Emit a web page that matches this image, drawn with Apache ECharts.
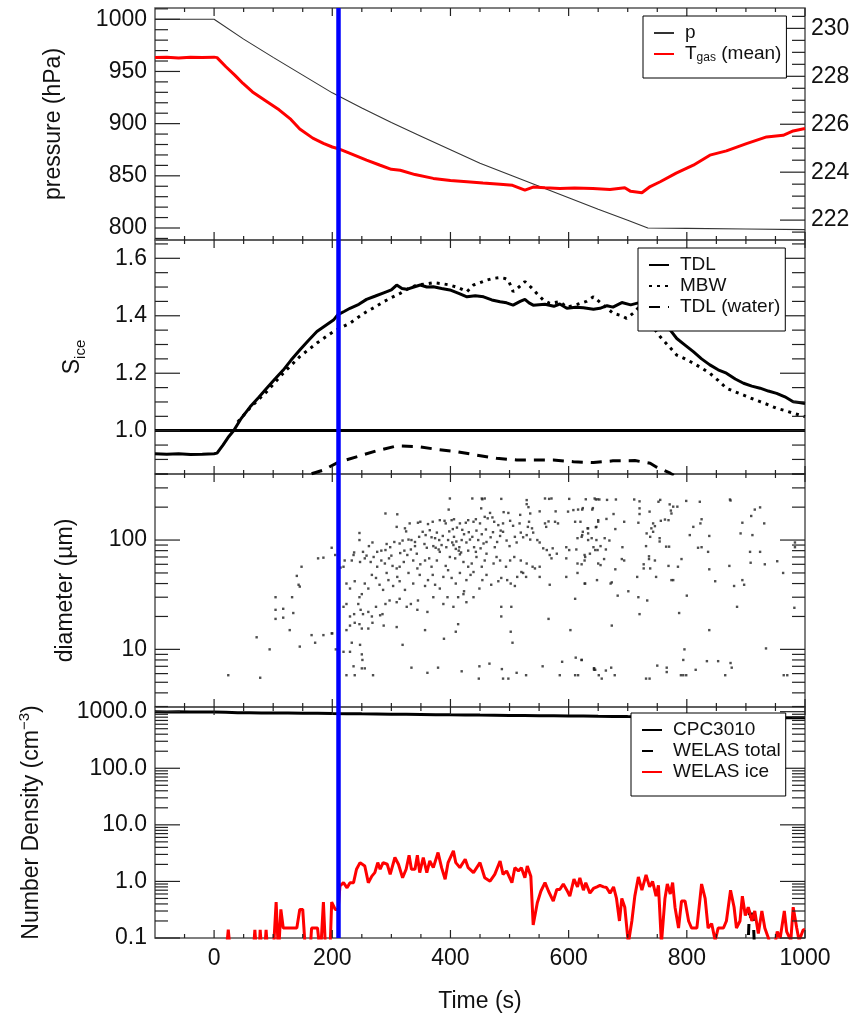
<!DOCTYPE html>
<html>
<head>
<meta charset="utf-8">
<script src="https://cdn.jsdelivr.net/npm/echarts@6/dist/echarts.min.js"></script>
<style>
html, body { margin: 0; padding: 0; background: #fff; }
#chart { width: 854px; height: 1019px; }
</style>
</head>
<body>
<div id="chart"></div>
<script>
var FONT = '"Liberation Sans", Arial, Helvetica, sans-serif';

// ticks / labels
var timeLabels = [0, 200, 400, 600, 800, 1000];
var timeMinor = [-50, 50, 100, 150, 250, 300, 350, 450, 500, 550, 650, 700, 750, 850, 900, 950];
var pressureLabels = [800, 850, 900, 950, 1000];
var pressureMinor = [790, 810, 820, 830, 840, 860, 870, 880, 890, 910, 920, 930, 940, 960, 970, 980, 990, 1010];
var tempLabels = [222, 224, 226, 228, 230];
var tempMinor = [221.5, 222.5, 223, 223.5, 224.5, 225, 225.5, 226.5, 227, 227.5, 228.5, 229, 229.5, 230.5];
var sIceLabels = [1.0, 1.2, 1.4, 1.6];
var sIceMinor = [0.85, 0.9, 0.95, 1.05, 1.1, 1.15, 1.25, 1.3, 1.35, 1.45, 1.5, 1.55, 1.65];
var diamLabels = [10, 100];
var diamMinor = [3, 4, 5, 6, 7, 8, 9, 20, 30, 40, 50, 60, 70, 80, 90, 200, 300, 400];
var densLabels = [0.1, 1, 10, 100, 1000];
var densMinor = [0.2, 0.3, 0.4, 0.5, 0.6, 0.7, 0.8, 0.9, 2, 3, 4, 5, 6, 7, 8, 9,
  20, 30, 40, 50, 60, 70, 80, 90, 200, 300, 400, 500, 600, 700, 800, 900];

var markerTime = 210;

// panel 1
var pressure = [[-100, 1000], [-50, 1000], [0, 1000], [50, 981], [100, 963.5], [150, 946.5], [200, 929.5],
  [250, 915], [300, 901], [350, 888], [400, 875], [450, 862], [500, 851], [550, 840], [600, 829],
  [650, 818], [700, 807.5], [734, 800], [800, 799.6], [900, 799], [1000, 798.4]];
var tGas = [[-100, 228.78], [-80, 228.8], [-60, 228.76], [-40, 228.8], [-20, 228.78], [0, 228.8], [5, 228.78],
  [20, 228.4], [35, 228.05], [49, 227.7], [65, 227.35], [89, 226.95], [110, 226.6], [130, 226.2], [145, 225.8],
  [167, 225.42], [185, 225.2], [200, 225.05], [209, 224.99], [230, 224.78], [258, 224.5], [280, 224.3],
  [300, 224.12], [315, 224.08], [340, 223.9], [371, 223.74], [400, 223.65], [428, 223.6], [455, 223.55],
  [484, 223.5], [505, 223.45], [526, 223.25], [540, 223.38], [560, 223.35], [585, 223.32], [610, 223.34],
  [641, 223.32], [670, 223.28], [695, 223.35], [705, 223.2], [724, 223.14], [738, 223.4], [755, 223.6],
  [782, 223.96], [811, 224.29], [839, 224.71], [867, 224.89], [901, 225.19], [935, 225.47], [963, 225.54],
  [980, 225.72], [1000, 225.82]];

// panel 2
var tdl = [[-100, 0.92], [-80, 0.918], [-60, 0.92], [-40, 0.917], [-20, 0.918], [0, 0.92], [5, 0.922],
  [15, 0.95], [25, 0.98], [33, 1.0], [45, 1.04], [61, 1.083], [75, 1.115], [89, 1.148], [103, 1.18],
  [117, 1.211], [130, 1.245], [145, 1.281], [160, 1.315], [174, 1.345], [188, 1.365], [202, 1.385],
  [209, 1.403], [220, 1.415], [230, 1.426], [245, 1.44], [258, 1.457], [272, 1.468], [287, 1.48],
  [300, 1.49], [309, 1.507], [318, 1.495], [326, 1.492], [338, 1.5], [349, 1.507], [360, 1.5],
  [371, 1.501], [385, 1.495], [399, 1.49], [414, 1.478], [428, 1.466], [442, 1.47], [456, 1.466],
  [470, 1.455], [484, 1.449], [495, 1.445], [506, 1.437], [518, 1.45], [526, 1.457], [533, 1.445],
  [540, 1.437], [560, 1.44], [575, 1.433], [585, 1.441], [597, 1.426], [612, 1.43], [625, 1.428],
  [642, 1.423], [653, 1.426], [665, 1.435], [675, 1.43], [690, 1.446], [705, 1.438], [718, 1.445],
  [727, 1.437], [735, 1.43], [744, 1.414], [758, 1.385], [772, 1.35], [783, 1.321], [797, 1.298],
  [811, 1.275], [825, 1.25], [839, 1.229], [853, 1.212], [867, 1.2], [882, 1.18], [896, 1.165],
  [910, 1.155], [924, 1.148], [938, 1.138], [952, 1.13], [966, 1.118], [980, 1.101], [990, 1.098], [1000, 1.095]];
var mbw = [[40, 1.03], [61, 1.08], [89, 1.136], [117, 1.2], [145, 1.258], [174, 1.305], [202, 1.345],
  [216, 1.36], [230, 1.374], [244, 1.395], [258, 1.414], [272, 1.43], [287, 1.449], [300, 1.463],
  [315, 1.478], [329, 1.495], [343, 1.507], [357, 1.51], [371, 1.515], [385, 1.512], [399, 1.507],
  [413, 1.498], [428, 1.484], [439, 1.507], [450, 1.515], [461, 1.524], [472, 1.53], [484, 1.533],
  [492, 1.53], [498, 1.524], [506, 1.484], [516, 1.5], [526, 1.519], [536, 1.5], [546, 1.478],
  [557, 1.455], [568, 1.443], [585, 1.449], [597, 1.43], [615, 1.44], [630, 1.45], [642, 1.466],
  [660, 1.435], [675, 1.409], [690, 1.4], [698, 1.391], [710, 1.41], [720, 1.432], [728, 1.41],
  [738, 1.374], [755, 1.327], [769, 1.295], [783, 1.263], [797, 1.25], [811, 1.235], [825, 1.218],
  [839, 1.2], [853, 1.175], [867, 1.148], [882, 1.135], [896, 1.124], [910, 1.112], [924, 1.101],
  [938, 1.09], [952, 1.078], [966, 1.07], [980, 1.061], [990, 1.055], [1000, 1.049]];
var tdlWater = [[165, 0.85], [185, 0.863], [209, 0.889], [241, 0.909], [275, 0.93], [309, 0.947],
  [343, 0.945], [377, 0.935], [411, 0.927], [445, 0.915], [478, 0.904], [512, 0.898], [540, 0.898],
  [574, 0.898], [608, 0.892], [642, 0.889], [675, 0.895], [712, 0.896], [738, 0.887], [749, 0.873],
  [772, 0.852], [778, 0.845]];

// panel 3: particle diameters [time, um]
var diameters = [
  [24, 5.8], [78, 5.5], [72, 12.9], [94, 10], [104, 30], [104, 23], [104, 19], [117, 23.5], [117, 19.5],
  [132, 30], [134, 21.5], [128, 15], [140, 47], [143, 39],
  [148, 57], [145, 37.5], [176, 68], [185, 69], [199, 85], [205, 73], [214, 56], [221, 65], [199, 14],
  [165, 13.5], [171, 11.5], [185, 13.5], [200, 14], [145, 10.6], [206, 10],
  [399, 240], [437, 240], [453, 240], [454, 236], [458, 240], [486, 238], [529, 232], [560, 240], [567, 238],
  [571, 240], [601, 238], [629, 236], [644, 240], [649, 236],
  [397, 190], [452, 195], [290, 175], [310, 172], [529, 213], [532, 200], [490, 180], [498, 177], [467, 177],
  [551, 183], [578, 183], [608, 188], [616, 190], [623, 190], [640, 190], [599, 182], [518, 170], [535, 175],
  [345, 144], [349, 147], [362, 140], [370, 147], [382, 152], [390, 150], [392, 142], [402, 152], [406, 155],
  [416, 142], [426, 144], [430, 152], [439, 147], [443, 155], [450, 142], [458, 163], [463, 158], [471, 161],
  [474, 147], [481, 137], [489, 142], [501, 150], [506, 135], [517, 142], [533, 147], [531, 132], [538, 128],
  [562, 132], [566, 148], [577, 147], [582, 142], [560, 142], [611, 147], [620, 147], [633, 128], [647, 132],
  [650, 152], [331, 142], [323, 128], [309, 132], [246, 116], [325, 120],
  [246, 100], [237, 77], [262, 88], [276, 78], [283, 80], [290, 81], [298, 86], [305, 96], [314, 93],
  [319, 99], [329, 101], [334, 100], [340, 96], [347, 107], [353, 119], [358, 111], [365, 123], [368, 106],
  [374, 104], [377, 117], [381, 100], [385, 90], [387, 109], [393, 86], [396, 100], [403, 95], [406, 107],
  [410, 97], [415, 86], [419, 100], [423, 113], [427, 95], [433, 101], [437, 107], [440, 86], [447, 100],
  [453, 113], [456, 93], [461, 96], [468, 106], [475, 86], [479, 96], [484, 109], [489, 119], [495, 99],
  [500, 88], [509, 107], [512, 95], [519, 117], [523, 106], [529, 111], [535, 101], [540, 117], [547, 100],
  [551, 95], [557, 84], [563, 81], [568, 73], [573, 84], [580, 75], [596, 86], [601, 81], [613, 82],
  [615, 104], [623, 111], [627, 73], [633, 100], [642, 86], [649, 81],
  [371, 88], [375, 85], [380, 82], [405, 90], [409, 83], [414, 80], [418, 77], [430, 80], [443, 78],
  [451, 84], [398, 120], [404, 126], [411, 130], [420, 124], [431, 118], [444, 122], [460, 125], [472, 118],
  [485, 122], [356, 92], [360, 85], [340, 88], [333, 82], [322, 80], [315, 76], [300, 72], [292, 92],
  [268, 95], [258, 72], [252, 78],
  [219, 57], [233, 65], [236, 73], [247, 63], [255, 68], [265, 63], [270, 70], [276, 57], [283, 65],
  [289, 61], [296, 68], [302, 58], [309, 55], [314, 57], [321, 63], [327, 73], [337, 65], [343, 75],
  [349, 60], [357, 65], [364, 68], [368, 57], [377, 65], [382, 78], [392, 58], [399, 70], [408, 68],
  [416, 74], [422, 63], [430, 57], [436, 61], [444, 70], [453, 57], [458, 65], [461, 75], [473, 61],
  [478, 70], [484, 65], [494, 57], [501, 65], [508, 70], [519, 65], [523, 50], [529, 61], [539, 57],
  [543, 55], [551, 57], [571, 68], [596, 68], [615, 61], [627, 65], [636, 75], [650, 61],
  [224, 40], [230, 36], [238, 42], [246, 30], [250, 32], [255, 40], [261, 36], [267, 48], [274, 45],
  [280, 39], [286, 35], [292, 50], [295, 43], [303, 38], [310, 46], [314, 42], [323, 35], [329, 50],
  [337, 40], [344, 55], [348, 48], [357, 38], [362, 43], [370, 48], [374, 39], [382, 36], [388, 46],
  [396, 53], [402, 45], [409, 40], [416, 50], [423, 34], [427, 43], [434, 48], [439, 51], [449, 36],
  [454, 43], [461, 48], [469, 39], [481, 42], [486, 45], [496, 43], [502, 40], [509, 38], [513, 46],
  [520, 51], [528, 46], [551, 46], [568, 39], [596, 46], [615, 50], [627, 40],
  [219, 24.5], [224, 26], [230, 20], [237, 21], [244, 26], [248, 23], [252, 21], [261, 22], [267, 20],
  [274, 24.5], [281, 20.5], [285, 21], [290, 26], [297, 28], [309, 27], [314, 29], [326, 24.5], [333, 26],
  [344, 23], [345, 28], [361, 22], [371, 30], [388, 26], [395, 30], [405, 24.5], [413, 30], [422, 32],
  [427, 27], [439, 30], [486, 24.5], [503, 24.5], [486, 20], [566, 19], [611, 29],
  [224, 15], [230, 16.5], [238, 17.5], [246, 17], [250, 15.5], [261, 15.5], [268, 17.5], [287, 16.5],
  [309, 16], [357, 15], [389, 12.5], [413, 17], [409, 14.5], [502, 14.5], [505, 11.5], [603, 15],
  [233, 11.5], [247, 11], [319, 11],
  [219, 9.5], [230, 9.5], [250, 9], [251, 8], [250, 6.7], [236, 7], [224, 5.8], [238, 5.8], [255, 6.7],
  [269, 5.8], [334, 6.8], [361, 6.1], [379, 6.8], [419, 6.3], [449, 7], [448, 5.4], [466, 7.4], [487, 6.6],
  [489, 5.4], [498, 5.4], [512, 6.1], [528, 5.8], [556, 7], [589, 7.7], [585, 5.8], [612, 8.4], [622, 8],
  [611, 5.8], [616, 5.8], [643, 6.7], [645, 6.5],
  [646, 235], [652, 235], [665, 233], [680, 235], [711, 235], [755, 233], [720, 226], [752, 224], [799, 228],
  [822, 224], [873, 235], [874, 230], [924, 199], [915, 190], [909, 166], [771, 212], [777, 202], [784, 202],
  [641, 196], [624, 196], [676, 173], [720, 195], [720, 173], [737, 182], [773, 186], [774, 175], [763, 154],
  [769, 152], [756, 150], [664, 156], [650, 147], [694, 147], [718, 144], [743, 142], [825, 155], [823, 142],
  [894, 144], [931, 142], [811, 132], [632, 128], [646, 131], [679, 126], [740, 128], [746, 134], [743, 119],
  [732, 115], [891, 115], [911, 111], [805, 111], [838, 109], [624, 119], [633, 115], [622, 107], [639, 104],
  [661, 104], [669, 99], [738, 107], [754, 104], [754, 97], [647, 100], [983, 95], [983, 86], [836, 78],
  [907, 78], [924, 78], [654, 88], [645, 81], [663, 82], [691, 86], [731, 88], [765, 87], [770, 87],
  [819, 85], [825, 86], [791, 67], [628, 70], [660, 67], [690, 67], [694, 65], [736, 71], [736, 67],
  [746, 65], [622, 60], [654, 59], [727, 60], [727, 55], [738, 55], [769, 58], [785, 57], [838, 54],
  [872, 58], [908, 62], [932, 60], [953, 64], [963, 50], [679, 54], [716, 46], [748, 46], [774, 43],
  [777, 43], [648, 43], [671, 40], [673, 41], [628, 40], [848, 42], [894, 43], [880, 38], [897, 39],
  [683, 31], [701, 34], [718, 30], [733, 28], [800, 31], [885, 24.5], [982, 24], [720, 21], [787, 21.5],
  [673, 16.5], [838, 15], [796, 10], [934, 10.2], [622, 8], [794, 8], [834, 7.8], [853, 7.8], [874, 7.5],
  [876, 6.8], [643, 6.7], [643, 6.5], [672, 6.8], [663, 6.4], [750, 7.1], [766, 6.8], [766, 6.2], [815, 6.5],
  [651, 5.8], [678, 5.8], [656, 5.4], [731, 5.4], [737, 5.4], [790, 5.8], [794, 5.8], [799, 5.8], [865, 5.8],
  [964, 5.8], [970, 5.8]
];

// panel 4
var cpc3010 = [[-100, 1000], [-80, 990], [-60, 996], [-40, 988], [-20, 992], [0, 985], [20, 975], [40, 962],
  [60, 958], [80, 952], [100, 950], [125, 944], [150, 938], [175, 934], [200, 925], [225, 922], [250, 915],
  [275, 910], [300, 900], [325, 897], [350, 892], [375, 886], [400, 880], [425, 876], [450, 870],
  [475, 866], [500, 860], [525, 857], [550, 850], [575, 846], [600, 840], [625, 836], [650, 830],
  [675, 826], [700, 820], [725, 816], [750, 812], [775, 808], [800, 805], [825, 800], [850, 797],
  [875, 794], [900, 790], [925, 787], [950, 784], [975, 780], [1000, 778]];
var welasTotal = [[903, 0.05], [906, 0.3], [909, 0.2], [912, 0.28], [915, 0.05]];
var welasIce = [[0, 0.05], [20, 0.05], [24, 0.14], [28, 0.05], [66, 0.05], [69, 0.14], [72, 0.05],
  [76, 0.05], [78, 0.14], [81, 0.05], [85, 0.05], [88, 0.14], [91, 0.05], [100, 0.05], [105, 0.43],
  [109, 0.05], [113, 0.32], [117, 0.15], [140, 0.15], [145, 0.32], [150, 0.32], [155, 0.05], [162, 0.05],
  [165, 0.15], [175, 0.15], [180, 0.05], [182, 0.05], [185, 0.43], [189, 0.05], [196, 0.05], [199, 0.43],
  [205, 0.32], [210, 0.32], [213, 0.83], [219, 0.95], [225, 0.77], [230, 0.95], [236, 0.95], [241, 1.64],
  [247, 2.15], [255, 1.87], [261, 0.95], [267, 1.24], [272, 1.43], [277, 2.15], [281, 1.64], [286, 2.15],
  [293, 2.01], [298, 1.33], [306, 2.65], [312, 2.01], [319, 1.16], [325, 1.64], [330, 2.9], [334, 1.64],
  [340, 1.64], [344, 2.9], [348, 1.43], [354, 2.65], [360, 1.43], [365, 2.3], [371, 1.75], [379, 3.24],
  [385, 1.75], [391, 1.09], [396, 2.15], [405, 3.47], [409, 2.15], [416, 1.75], [425, 2.46], [430, 1.75],
  [439, 1.43], [450, 2.15], [458, 1.16], [467, 1.01], [475, 1.33], [484, 2.3], [489, 1.33], [495, 1.53],
  [504, 0.95], [509, 1.75], [515, 1.53], [520, 1.75], [526, 1.16], [530, 1.87], [536, 1.24], [540, 0.17],
  [547, 0.42], [553, 0.67], [560, 0.95], [566, 0.67], [568, 0.72], [574, 0.45], [580, 0.72], [585, 0.72],
  [591, 0.9], [597, 0.7], [602, 0.55], [609, 1.1], [615, 0.8], [619, 1.15], [625, 0.7], [629, 0.95],
  [636, 0.62], [642, 0.75], [648, 0.8], [653, 0.85], [659, 0.8], [664, 0.78], [670, 0.62], [676, 0.8],
  [681, 0.5], [686, 0.2], [690, 0.5], [695, 0.35], [701, 0.08], [707, 0.2], [712, 0.55], [718, 1.2],
  [724, 0.7], [731, 1.3], [737, 0.8], [742, 1.0], [748, 0.55], [752, 0.85], [757, 0.08], [763, 0.5],
  [767, 0.9], [772, 0.6], [776, 0.95], [780, 0.35], [786, 0.15], [791, 0.45], [797, 0.45], [803, 0.2],
  [808, 0.15], [817, 0.15], [825, 0.9], [831, 0.5], [836, 0.15], [842, 0.18], [848, 0.09], [853, 0.15],
  [862, 0.15], [867, 0.2], [874, 0.7], [880, 0.35], [884, 0.15], [890, 0.2], [894, 0.55], [899, 0.25],
  [904, 0.35], [910, 0.2], [915, 0.3], [921, 0.12], [927, 0.3], [932, 0.15], [938, 0.1], [946, 0.05],
  [953, 0.13], [958, 0.1], [965, 0.3], [969, 0.13], [976, 0.09], [980, 0.35], [986, 0.15], [990, 0.09],
  [997, 0.14], [1000, 0.14]];

var chart = echarts.init(document.getElementById('chart'), null, { renderer: 'canvas' });

var labelStyle = { color: '#111', fontSize: 23, fontFamily: FONT };
var nameStyle = { color: '#111', fontSize: 23, fontFamily: FONT };

var panels = [
  { top: 8, height: 232 },
  { top: 240, height: 234 },
  { top: 474, height: 233 },
  { top: 707, height: 231 }
];
var grid = panels.map(function (p) {
  return { left: 155, right: 49, top: p.top, height: p.height, show: true,
    borderColor: '#555', borderWidth: 1.5, backgroundColor: 'transparent',
    outerBoundsMode: 'none', containLabel: false };
});

var xAxis = panels.map(function (p, g) {
  var ax = {
    type: 'value', gridIndex: g, position: 'bottom', min: -100, max: 1000,
    axisLine: { show: false, onZero: false }, axisTick: { show: false },
    axisLabel: { show: false }, splitLine: { show: false }
  };
  if (g === 3) {
    ax.axisLabel = Object.assign({ show: true, customValues: timeLabels, margin: 9,
      formatter: function (v) { return String(v); } }, labelStyle);
    ax.name = 'Time (s)';
    ax.nameLocation = 'middle';
    ax.nameGap = 52;
    ax.nameTextStyle = nameStyle;
  }
  return ax;
});

var fmtInt = function (v) { return String(Math.round(v)); };
var fmt1 = function (v) { return Number(v).toFixed(1); };
var pCfg = { type: 'value', min: 788.5, max: 1010.8, fmt: fmtInt };
var tCfg = { type: 'value', min: 221.17, max: 230.85, fmt: fmtInt };
var sCfg = { type: 'value', min: 0.8493, max: 1.6637, fmt: fmt1 };
var dCfg = { type: 'log', min: 2.97, max: 402, fmt: fmtInt };
var nCfg = { type: 'log', min: 0.1, max: 1210, fmt: fmt1 };

function valueAxis(g, position, cfg, labels, name) {
  var ax = {
    type: cfg.type, gridIndex: g, position: position, min: cfg.min, max: cfg.max,
    axisLine: { show: false, onZero: false }, axisTick: { show: false },
    axisLabel: Object.assign({ show: true, customValues: labels, formatter: cfg.fmt,
      margin: position === 'left' ? 8 : 6 }, labelStyle),
    splitLine: { show: false }
  };
  if (cfg.type === 'log') ax.logBase = 10;
  if (name) {
    ax.name = name.text;
    ax.nameLocation = 'middle';
    ax.nameGap = name.gap;
    ax.nameTextStyle = Object.assign({}, nameStyle, name.rich ? { rich: name.rich } : {});
  }
  return ax;
}

var richSub = { a: { fontSize: 23, fontFamily: FONT, color: '#111' },
  b: { fontSize: 15, fontFamily: FONT, color: '#111', verticalAlign: 'bottom', lineHeight: 30 } };
var richSup = { a: { fontSize: 23, fontFamily: FONT, color: '#111' },
  b: { fontSize: 15, fontFamily: FONT, color: '#111', verticalAlign: 'top', lineHeight: 30 } };

var yAxis = [
  valueAxis(0, 'left', pCfg, pressureLabels, { text: 'pressure (hPa)', gap: 90 }),
  valueAxis(0, 'right', tCfg, tempLabels),
  valueAxis(1, 'left', sCfg, sIceLabels, { text: '{a|S}{b|ice}', gap: 67, rich: richSub }),
  valueAxis(2, 'left', dCfg, diamLabels, { text: 'diameter (µm)', gap: 78 }),
  valueAxis(3, 'left', nCfg, densLabels, { text: '{a|Number Density (cm}{b|−3}{a|)}', gap: 108, rich: richSup })
];

// tick marks drawn through the axes' own scales: item = [value, side, length]
// side: 1 left, 2 right, 3 bottom, 4 top
function tickItems(values, sides, len) {
  var out = [];
  values.forEach(function (v) { sides.forEach(function (s) { out.push([v, s, len]); }); });
  return out;
}
function tickSeries(xi, yi, yRef, items) {
  return {
    type: 'custom', xAxisIndex: xi, yAxisIndex: yi, silent: true, clip: false, z: 6,
    animation: false, data: items,
    renderItem: function (params, api) {
      var cs = params.coordSys;
      var v = api.value(0), side = api.value(1), len = api.value(2);
      var shape;
      if (side === 1 || side === 2) {
        var y = api.coord([0, v])[1];
        var x0 = side === 1 ? cs.x : cs.x + cs.width;
        shape = { x1: x0, y1: y, x2: side === 1 ? x0 + len : x0 - len, y2: y };
      } else {
        var x = api.coord([v, yRef])[0];
        var yb = side === 3 ? cs.y + cs.height : cs.y;
        shape = { x1: x, y1: yb, x2: x, y2: side === 3 ? yb - len : yb + len };
      }
      return { type: 'line', shape: shape, style: { stroke: '#222', lineWidth: 1.2 } };
    }
  };
}
function timeTicks() {
  return tickItems(timeLabels, [3, 4], 8).concat(tickItems(timeMinor, [3, 4], 4));
}

function blueMark() {
  return {
    silent: true, symbol: ['none', 'none'], label: { show: false }, animation: false,
    lineStyle: { color: '#0000ff', width: 4.5, type: 'solid', opacity: 1 },
    emphasis: { disabled: true },
    data: [{ xAxis: markerTime }]
  };
}

function lineSeries(name, data, xi, yi, style, extra) {
  return Object.assign({
    name: name, type: 'line', data: data, xAxisIndex: xi, yAxisIndex: yi,
    symbol: 'none', showSymbol: false, sampling: null, clip: true,
    lineStyle: style, itemStyle: { color: style.color }, emphasis: { disabled: true }
  }, extra || {});
}

var series = [
  lineSeries('p', pressure, 0, 0, { color: '#333', width: 1.1 }),
  lineSeries('Tgas (mean)', tGas, 0, 1, { color: '#ff0000', width: 3 }, { markLine: blueMark() }),

  lineSeries('TDL', tdl, 1, 2, { color: '#000', width: 3 }, {
    markLine: { silent: true, symbol: ['none', 'none'], label: { show: false }, animation: false,
      lineStyle: { color: '#000', width: 3, type: 'solid' }, data: [{ yAxis: 1.0 }] }
  }),
  lineSeries('MBW', mbw, 1, 2, { color: '#000', width: 3, type: [3, 5] }),
  lineSeries('TDL (water)', tdlWater, 1, 2, { color: '#000', width: 3, type: [11, 8] }, { markLine: blueMark() }),

  {
    name: 'diameter', type: 'scatter', data: diameters, xAxisIndex: 2, yAxisIndex: 3,
    symbol: 'rect', symbolSize: 2.4, itemStyle: { color: '#222' }, emphasis: { disabled: true },
    markLine: blueMark()
  },

  lineSeries('CPC3010', cpc3010, 3, 4, { color: '#000', width: 3 }),
  lineSeries('WELAS total', welasTotal, 3, 4, { color: '#000', width: 3, type: [11, 9] }),
  lineSeries('WELAS ice', welasIce, 3, 4, { color: '#ff0000', width: 3 }, { markLine: blueMark() }),

  tickSeries(0, 0, 900, timeTicks().concat(tickItems(pressureLabels, [1], 25), tickItems(pressureMinor, [1], 13))),
  tickSeries(0, 1, 225, tickItems(tempLabels, [2], 25).concat(tickItems(tempMinor, [2], 13))),
  tickSeries(1, 2, 1.2, timeTicks().concat(tickItems(sIceLabels, [1, 2], 25), tickItems(sIceMinor, [1, 2], 13))),
  tickSeries(2, 3, 10, timeTicks().concat(tickItems(diamLabels, [1, 2], 25), tickItems(diamMinor, [1, 2], 13))),
  tickSeries(3, 4, 1, timeTicks().concat(tickItems(densLabels, [1, 2], 25), tickItems(densMinor, [1, 2], 13)))
];

function legendBox(left, top, names) {
  return {
    left: left, top: top, orient: 'vertical', selectedMode: false,
    itemWidth: 20, itemHeight: 14, itemGap: 1,
    padding: [7, 5, 14, 10], z: 10,
    backgroundColor: '#fff', borderColor: '#000', borderWidth: 1, borderRadius: 0,
    itemStyle: { opacity: 0 },
    data: names,
    formatter: function (n) {
      return n === 'Tgas (mean)' ? '{t|T}{s|gas}{t| (mean)}' : n;
    },
    textStyle: {
      fontFamily: FONT, fontSize: 19, color: '#111', lineHeight: 20, padding: [0, 0, 0, 6],
      rich: {
        t: { fontFamily: FONT, fontSize: 19, color: '#111', lineHeight: 20 },
        s: { fontFamily: FONT, fontSize: 12, color: '#111', lineHeight: 20, verticalAlign: 'bottom' }
      }
    }
  };
}

var option = {
  animation: false,
  backgroundColor: '#fff',
  textStyle: { fontFamily: FONT },
  grid: grid,
  xAxis: xAxis,
  yAxis: yAxis,
  legend: [
    legendBox(643, 16, ['p', 'Tgas (mean)']),
    legendBox(638, 248, ['TDL', 'MBW', 'TDL (water)']),
    legendBox(631, 713, ['CPC3010', 'WELAS total', 'WELAS ice'])
  ],
  series: series
};

chart.setOption(option);
</script>
</body>
</html>
